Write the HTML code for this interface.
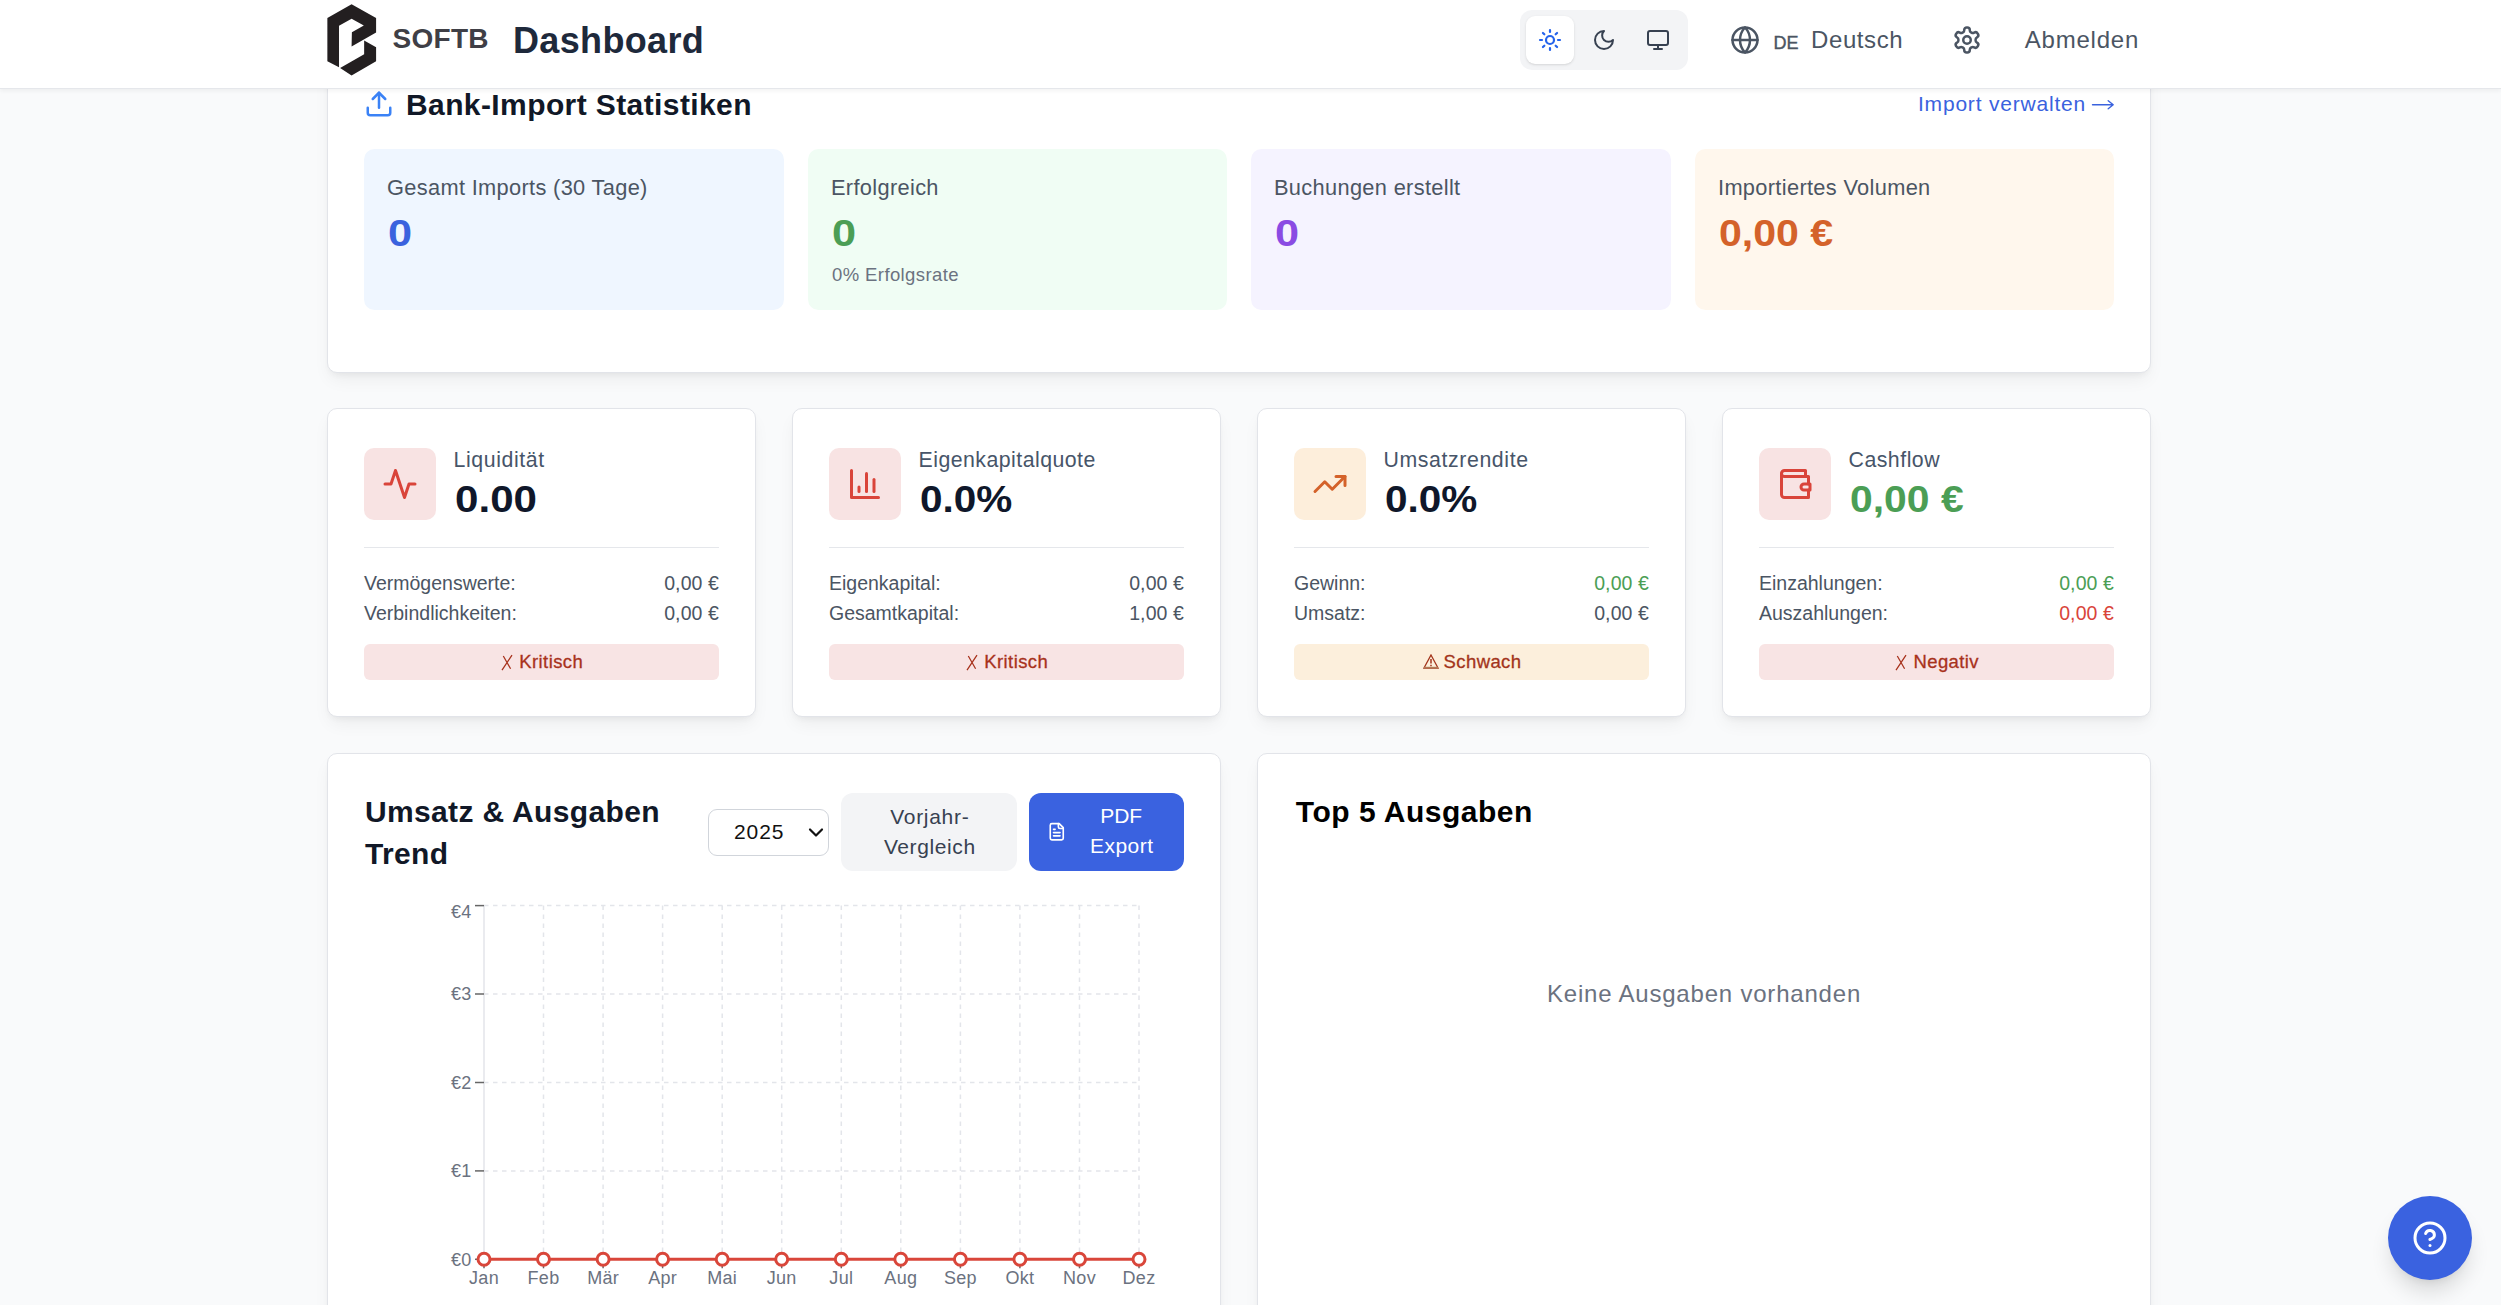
<!DOCTYPE html>
<html lang="de">
<head>
<meta charset="utf-8">
<title>Dashboard</title>
<style>
*{box-sizing:border-box;margin:0;padding:0}
html,body{width:2501px;height:1305px;overflow:hidden}
body{background:#f9fafb;font-family:"Liberation Sans",sans-serif;position:relative;color:#111827}
.a{position:absolute}
.t{position:absolute;line-height:1;white-space:nowrap}
.card{position:absolute;background:#fff;border:1px solid #e2e4e9;border-radius:10px;box-shadow:0 9px 18px -3px rgba(0,0,0,.06),0 4px 7px -3px rgba(0,0,0,.06)}
.box{position:absolute;border-radius:10.5px}
.ib{position:absolute;width:72px;height:72px;border-radius:10px}
.dv{position:absolute;height:1.5px;background:#e5e7eb}
.badge{position:absolute;height:36px;border-radius:6px}
header{position:absolute;left:0;top:0;width:2501px;height:89px;background:#fff;border-bottom:1.5px solid #e5e7eb;box-shadow:0 1.5px 4px rgba(0,0,0,.05);z-index:10}
</style>
</head>
<body>
<div class="card" style="left:327px;top:20px;width:1824px;height:353px"></div>
<svg class="a" style="left:364.0px;top:89.0px" width="30" height="30" viewBox="0 0 24 24" fill="none" stroke="#3b82f6" stroke-width="2" stroke-linecap="round" stroke-linejoin="round"><path d="M21 15v4a2 2 0 0 1-2 2H5a2 2 0 0 1-2-2v-4"/><path d="M17 8l-5-5-5 5"/><path d="M12 3v12"/></svg>
<div class="t" style="left:406.0px;top:89.61px;font-size:30px;font-weight:700;letter-spacing:0.4px;color:#111827;">Bank-Import Statistiken</div>
<div class="t" style="right:415.0px;top:93.02px;font-size:21px;letter-spacing:0.8px;color:#3a62de">Import verwalten</div>
<svg class="a" style="left:2090px;top:96px" width="26" height="16" viewBox="0 0 26 16" fill="none" stroke="#3a62de" stroke-width="1.4" stroke-linecap="round" stroke-linejoin="round"><path d="M2.5 8.8H23.2M18.2 4.8l5 4-5 4"/></svg>
<div class="box" style="left:364px;top:149px;width:420px;height:161px;background:#eff6ff"></div>
<div class="t" style="left:387.0px;top:176.55px;font-size:21.8px;letter-spacing:0.33px;color:#4b5563;">Gesamt Imports (30 Tage)</div>
<div class="t" style="left:388.0px;top:214.78px;font-size:37px;font-weight:700;color:#3a62de;transform:scaleX(1.17);transform-origin:0 0">0</div>
<div class="box" style="left:808px;top:149px;width:419px;height:161px;background:#f0fdf4"></div>
<div class="t" style="left:831.0px;top:176.55px;font-size:21.8px;letter-spacing:0.33px;color:#4b5563;">Erfolgreich</div>
<div class="t" style="left:832.0px;top:214.78px;font-size:37px;font-weight:700;color:#4b9e55;transform:scaleX(1.17);transform-origin:0 0">0</div>
<div class="t" style="left:832.0px;top:265.64px;font-size:18.5px;letter-spacing:0.4px;color:#6b7280;">0% Erfolgsrate</div>
<div class="box" style="left:1251px;top:149px;width:420px;height:161px;background:#f5f3ff"></div>
<div class="t" style="left:1274.0px;top:176.55px;font-size:21.8px;letter-spacing:0.33px;color:#4b5563;">Buchungen erstellt</div>
<div class="t" style="left:1275.0px;top:214.78px;font-size:37px;font-weight:700;color:#8a4be3;transform:scaleX(1.17);transform-origin:0 0">0</div>
<div class="box" style="left:1695px;top:149px;width:419px;height:161px;background:#fff7ed"></div>
<div class="t" style="left:1718.0px;top:176.55px;font-size:21.8px;letter-spacing:0.33px;color:#4b5563;">Importiertes Volumen</div>
<div class="t" style="left:1719.0px;top:214.78px;font-size:37px;font-weight:700;color:#d4622a;transform:scaleX(1.11);transform-origin:0 0">0,00 &#8364;</div>
<div class="card" style="left:327px;top:408px;width:429px;height:309px"></div>
<div class="ib" style="left:364px;top:448px;background:#f8e3e3"></div>
<svg class="a" style="left:382.0px;top:466.0px" width="36" height="36" viewBox="0 0 24 24" fill="none" stroke="#d9443a" stroke-width="2" stroke-linecap="round" stroke-linejoin="round"><path d="M22 12h-4l-3 9L9 3l-3 9H2"/></svg>
<div class="t" style="left:453.5px;top:449.87px;font-size:21.3px;letter-spacing:0.6px;color:#475569;">Liquidit&#228;t</div>
<div class="t" style="left:454.5px;top:481.93px;font-size:36px;font-weight:700;color:#0f172a;transform:scaleX(1.17);transform-origin:0 0">0.00</div>
<div class="dv" style="left:364px;top:546.5px;width:355px"></div>
<div class="t" style="left:364.0px;top:574.09px;font-size:19.5px;color:#4b5563;">Verm&#246;genswerte:</div>
<div class="t" style="right:1782.0px;top:574.09px;font-size:19.5px;letter-spacing:0.1px;color:#4b5563">0,00 &#8364;</div>
<div class="t" style="left:364.0px;top:604.09px;font-size:19.5px;color:#4b5563;">Verbindlichkeiten:</div>
<div class="t" style="right:1782.0px;top:604.09px;font-size:19.5px;letter-spacing:0.1px;color:#4b5563">0,00 &#8364;</div>
<div class="badge" style="left:364px;top:644px;width:355px;background:#f8e4e4"></div>
<div class="t" style="left:364.5px;width:355px;text-align:center;top:653.04px;font-size:18.5px;letter-spacing:0.4px;color:#a8321c;-webkit-text-stroke:0.3px #a8321c"><svg width="12" height="17" viewBox="0 0 12 17" style="margin-right:6.5px;vertical-align:-2.5px"><path d="M1 16.2 L11 1.2 M2.3 2 L9.6 14.8" stroke="#a8321c" stroke-width="1.25" fill="none"/></svg>Kritisch</div>
<div class="card" style="left:792px;top:408px;width:429px;height:309px"></div>
<div class="ib" style="left:829px;top:448px;background:#f8e3e3"></div>
<svg class="a" style="left:847.0px;top:466.0px" width="36" height="36" viewBox="0 0 24 24" fill="none" stroke="#d9443a" stroke-width="2" stroke-linecap="round" stroke-linejoin="round"><path d="M3 3v18h18"/><path d="M18 17V9"/><path d="M13 17V5"/><path d="M8 17v-3"/></svg>
<div class="t" style="left:918.5px;top:449.87px;font-size:21.3px;letter-spacing:0.47px;color:#475569;">Eigenkapitalquote</div>
<div class="t" style="left:919.5px;top:481.93px;font-size:36px;font-weight:700;color:#0f172a;transform:scaleX(1.125);transform-origin:0 0">0.0%</div>
<div class="dv" style="left:829px;top:546.5px;width:355px"></div>
<div class="t" style="left:829.0px;top:574.09px;font-size:19.5px;color:#4b5563;">Eigenkapital:</div>
<div class="t" style="right:1317.0px;top:574.09px;font-size:19.5px;letter-spacing:0.1px;color:#4b5563">0,00 &#8364;</div>
<div class="t" style="left:829.0px;top:604.09px;font-size:19.5px;color:#4b5563;">Gesamtkapital:</div>
<div class="t" style="right:1317.0px;top:604.09px;font-size:19.5px;letter-spacing:0.1px;color:#4b5563">1,00 &#8364;</div>
<div class="badge" style="left:829px;top:644px;width:355px;background:#f8e4e4"></div>
<div class="t" style="left:829.5px;width:355px;text-align:center;top:653.04px;font-size:18.5px;letter-spacing:0.4px;color:#a8321c;-webkit-text-stroke:0.3px #a8321c"><svg width="12" height="17" viewBox="0 0 12 17" style="margin-right:6.5px;vertical-align:-2.5px"><path d="M1 16.2 L11 1.2 M2.3 2 L9.6 14.8" stroke="#a8321c" stroke-width="1.25" fill="none"/></svg>Kritisch</div>
<div class="card" style="left:1257px;top:408px;width:429px;height:309px"></div>
<div class="ib" style="left:1294px;top:448px;background:#fdeedb"></div>
<svg class="a" style="left:1312.0px;top:466.0px" width="36" height="36" viewBox="0 0 24 24" fill="none" stroke="#d4622a" stroke-width="2" stroke-linecap="round" stroke-linejoin="round"><path d="M22 7l-8.5 8.5-5-5L2 17"/><path d="M16 7h6v6"/></svg>
<div class="t" style="left:1383.5px;top:449.87px;font-size:21.3px;letter-spacing:0.6px;color:#475569;">Umsatzrendite</div>
<div class="t" style="left:1384.5px;top:481.93px;font-size:36px;font-weight:700;color:#0f172a;transform:scaleX(1.125);transform-origin:0 0">0.0%</div>
<div class="dv" style="left:1294px;top:546.5px;width:355px"></div>
<div class="t" style="left:1294.0px;top:574.09px;font-size:19.5px;color:#4b5563;">Gewinn:</div>
<div class="t" style="right:852.0px;top:574.09px;font-size:19.5px;letter-spacing:0.1px;color:#4b9e55">0,00 &#8364;</div>
<div class="t" style="left:1294.0px;top:604.09px;font-size:19.5px;color:#4b5563;">Umsatz:</div>
<div class="t" style="right:852.0px;top:604.09px;font-size:19.5px;letter-spacing:0.1px;color:#4b5563">0,00 &#8364;</div>
<div class="badge" style="left:1294px;top:644px;width:355px;background:#fcefdc"></div>
<div class="t" style="left:1294.5px;width:355px;text-align:center;top:653.04px;font-size:18.5px;letter-spacing:0.4px;color:#a3341b;-webkit-text-stroke:0.3px #a3341b"><svg width="16" height="15" viewBox="0 0 16 15" style="margin-right:5px;vertical-align:-1px"><path d="M8 1 L15 14 H1 Z" stroke="#a3341b" stroke-width="1.3" fill="none" stroke-linejoin="miter"/><path d="M8 5v4.5M8 10.8v1.4" stroke="#a3341b" stroke-width="1.5"/><path d="M1 13.6 H15" stroke="#b07a55" stroke-width="1.6"/></svg>Schwach</div>
<div class="card" style="left:1722px;top:408px;width:429px;height:309px"></div>
<div class="ib" style="left:1759px;top:448px;background:#f8e3e3"></div>
<svg class="a" style="left:1777.0px;top:466.0px" width="36" height="36" viewBox="0 0 24 24" fill="none" stroke="#d9443a" stroke-width="2" stroke-linecap="round" stroke-linejoin="round"><path d="M21 12V7H5a2 2 0 0 1 0-4h14v4"/><path d="M3 5v14a2 2 0 0 0 2 2h16v-5"/><path d="M18 12a2 2 0 0 0 0 4h4v-4Z"/></svg>
<div class="t" style="left:1848.5px;top:449.87px;font-size:21.3px;letter-spacing:0.5px;color:#475569;">Cashflow</div>
<div class="t" style="left:1849.5px;top:481.93px;font-size:36px;font-weight:700;color:#4b9e55;transform:scaleX(1.135);transform-origin:0 0">0,00 &#8364;</div>
<div class="dv" style="left:1759px;top:546.5px;width:355px"></div>
<div class="t" style="left:1759.0px;top:574.09px;font-size:19.5px;color:#4b5563;">Einzahlungen:</div>
<div class="t" style="right:387.0px;top:574.09px;font-size:19.5px;letter-spacing:0.1px;color:#4b9e55">0,00 &#8364;</div>
<div class="t" style="left:1759.0px;top:604.09px;font-size:19.5px;color:#4b5563;">Auszahlungen:</div>
<div class="t" style="right:387.0px;top:604.09px;font-size:19.5px;letter-spacing:0.1px;color:#d9443a">0,00 &#8364;</div>
<div class="badge" style="left:1759px;top:644px;width:355px;background:#f8e4e4"></div>
<div class="t" style="left:1759.5px;width:355px;text-align:center;top:653.04px;font-size:18.5px;letter-spacing:0.4px;color:#a8321c;-webkit-text-stroke:0.3px #a8321c"><svg width="12" height="17" viewBox="0 0 12 17" style="margin-right:6.5px;vertical-align:-2.5px"><path d="M1 16.2 L11 1.2 M2.3 2 L9.6 14.8" stroke="#a8321c" stroke-width="1.25" fill="none"/></svg>Negativ</div>
<div class="card" style="left:327px;top:753px;width:894px;height:700px"></div>
<div class="t" style="left:365.0px;top:796.90px;font-size:30px;font-weight:700;letter-spacing:0.35px;color:#111827;">Umsatz &amp; Ausgaben</div>
<div class="t" style="left:365.0px;top:838.90px;font-size:30px;font-weight:700;letter-spacing:0.35px;color:#111827;">Trend</div>
<div class="a" style="left:708px;top:809px;width:121px;height:47px;border:1.5px solid #d1d5db;border-radius:9px;background:#fff"></div>
<div class="t" style="left:734.0px;top:820.62px;font-size:21px;letter-spacing:0.9px;color:#111;">2025</div>
<svg class="a" style="left:806px;top:824px" width="20" height="17" viewBox="0 0 20 17" fill="none" stroke="#111" stroke-width="2.2" stroke-linecap="round" stroke-linejoin="round"><path d="M4 5.5l6 6 6-6"/></svg>
<div class="a" style="left:841px;top:793px;width:176px;height:77.5px;border-radius:12px;background:#f3f4f6"></div>
<div class="t" style="left:841.8px;width:176px;text-align:center;top:805.82px;font-size:21px;letter-spacing:0.7px;color:#374151">Vorjahr-</div>
<div class="t" style="left:841.8px;width:176px;text-align:center;top:835.82px;font-size:21px;letter-spacing:0.6px;color:#374151">Vergleich</div>
<div class="a" style="left:1029px;top:793px;width:155px;height:77.5px;border-radius:12px;background:#3a62e0"></div>
<svg class="a" style="left:1046.6px;top:821.9px" width="19.5" height="19.5" viewBox="0 0 24 24" fill="none" stroke="#fff" stroke-width="2" stroke-linecap="round" stroke-linejoin="round"><path d="M15 2H6a2 2 0 0 0-2 2v16a2 2 0 0 0 2 2h12a2 2 0 0 0 2-2V7Z"/><path d="M14 2v4a2 2 0 0 0 2 2h4"/><path d="M10 9H8"/><path d="M16 13H8"/><path d="M16 17H8"/></svg>
<div class="t" style="left:1061.2px;width:120px;text-align:center;top:805.02px;font-size:21px;color:#fff">PDF</div>
<div class="t" style="left:1061.8px;width:120px;text-align:center;top:835.02px;font-size:21px;letter-spacing:0.5px;color:#fff">Export</div>
<svg class="a" style="left:0;top:0" width="1230" height="1305" viewBox="0 0 1230 1305">
<line x1="543.5" y1="905.6" x2="543.5" y2="1259.3" stroke="#e3e5ea" stroke-width="1.5" stroke-dasharray="4.5 4.5"/>
<line x1="603.1" y1="905.6" x2="603.1" y2="1259.3" stroke="#e3e5ea" stroke-width="1.5" stroke-dasharray="4.5 4.5"/>
<line x1="662.6" y1="905.6" x2="662.6" y2="1259.3" stroke="#e3e5ea" stroke-width="1.5" stroke-dasharray="4.5 4.5"/>
<line x1="722.2" y1="905.6" x2="722.2" y2="1259.3" stroke="#e3e5ea" stroke-width="1.5" stroke-dasharray="4.5 4.5"/>
<line x1="781.7" y1="905.6" x2="781.7" y2="1259.3" stroke="#e3e5ea" stroke-width="1.5" stroke-dasharray="4.5 4.5"/>
<line x1="841.3" y1="905.6" x2="841.3" y2="1259.3" stroke="#e3e5ea" stroke-width="1.5" stroke-dasharray="4.5 4.5"/>
<line x1="900.8" y1="905.6" x2="900.8" y2="1259.3" stroke="#e3e5ea" stroke-width="1.5" stroke-dasharray="4.5 4.5"/>
<line x1="960.4" y1="905.6" x2="960.4" y2="1259.3" stroke="#e3e5ea" stroke-width="1.5" stroke-dasharray="4.5 4.5"/>
<line x1="1019.9" y1="905.6" x2="1019.9" y2="1259.3" stroke="#e3e5ea" stroke-width="1.5" stroke-dasharray="4.5 4.5"/>
<line x1="1079.5" y1="905.6" x2="1079.5" y2="1259.3" stroke="#e3e5ea" stroke-width="1.5" stroke-dasharray="4.5 4.5"/>
<line x1="1139.0" y1="905.6" x2="1139.0" y2="1259.3" stroke="#e3e5ea" stroke-width="1.5" stroke-dasharray="4.5 4.5"/>
<line x1="484.0" y1="905.6" x2="1139.0" y2="905.6" stroke="#e3e5ea" stroke-width="1.5" stroke-dasharray="4.5 4.5"/>
<line x1="484.0" y1="994.0" x2="1139.0" y2="994.0" stroke="#e3e5ea" stroke-width="1.5" stroke-dasharray="4.5 4.5"/>
<line x1="484.0" y1="1082.5" x2="1139.0" y2="1082.5" stroke="#e3e5ea" stroke-width="1.5" stroke-dasharray="4.5 4.5"/>
<line x1="484.0" y1="1170.9" x2="1139.0" y2="1170.9" stroke="#e3e5ea" stroke-width="1.5" stroke-dasharray="4.5 4.5"/>
<line x1="484.0" y1="905.6" x2="484.0" y2="1259.3" stroke="#e3e5ea" stroke-width="1.5"/>
<line x1="475.0" y1="905.6" x2="484.0" y2="905.6" stroke="#666" stroke-width="1.5"/>
<text x="471.5" y="918.0" text-anchor="end" font-size="18" fill="#6b7280" font-family="Liberation Sans, sans-serif" letter-spacing="0.3">&#8364;4</text>
<line x1="475.0" y1="994.0" x2="484.0" y2="994.0" stroke="#666" stroke-width="1.5"/>
<text x="471.5" y="1000.3" text-anchor="end" font-size="18" fill="#6b7280" font-family="Liberation Sans, sans-serif" letter-spacing="0.3">&#8364;3</text>
<line x1="475.0" y1="1082.5" x2="484.0" y2="1082.5" stroke="#666" stroke-width="1.5"/>
<text x="471.5" y="1088.8" text-anchor="end" font-size="18" fill="#6b7280" font-family="Liberation Sans, sans-serif" letter-spacing="0.3">&#8364;2</text>
<line x1="475.0" y1="1170.9" x2="484.0" y2="1170.9" stroke="#666" stroke-width="1.5"/>
<text x="471.5" y="1177.2" text-anchor="end" font-size="18" fill="#6b7280" font-family="Liberation Sans, sans-serif" letter-spacing="0.3">&#8364;1</text>
<line x1="475.0" y1="1259.3" x2="484.0" y2="1259.3" stroke="#666" stroke-width="1.5"/>
<text x="471.5" y="1265.6" text-anchor="end" font-size="18" fill="#6b7280" font-family="Liberation Sans, sans-serif" letter-spacing="0.3">&#8364;0</text>
<line x1="484.0" y1="1259.3" x2="484.0" y2="1268.3" stroke="#666" stroke-width="1.5"/>
<text x="484.0" y="1283.6" text-anchor="middle" font-size="18" fill="#6b7280" font-family="Liberation Sans, sans-serif" letter-spacing="0.3">Jan</text>
<line x1="543.5" y1="1259.3" x2="543.5" y2="1268.3" stroke="#666" stroke-width="1.5"/>
<text x="543.5" y="1283.6" text-anchor="middle" font-size="18" fill="#6b7280" font-family="Liberation Sans, sans-serif" letter-spacing="0.3">Feb</text>
<line x1="603.1" y1="1259.3" x2="603.1" y2="1268.3" stroke="#666" stroke-width="1.5"/>
<text x="603.1" y="1283.6" text-anchor="middle" font-size="18" fill="#6b7280" font-family="Liberation Sans, sans-serif" letter-spacing="0.3">M&#228;r</text>
<line x1="662.6" y1="1259.3" x2="662.6" y2="1268.3" stroke="#666" stroke-width="1.5"/>
<text x="662.6" y="1283.6" text-anchor="middle" font-size="18" fill="#6b7280" font-family="Liberation Sans, sans-serif" letter-spacing="0.3">Apr</text>
<line x1="722.2" y1="1259.3" x2="722.2" y2="1268.3" stroke="#666" stroke-width="1.5"/>
<text x="722.2" y="1283.6" text-anchor="middle" font-size="18" fill="#6b7280" font-family="Liberation Sans, sans-serif" letter-spacing="0.3">Mai</text>
<line x1="781.7" y1="1259.3" x2="781.7" y2="1268.3" stroke="#666" stroke-width="1.5"/>
<text x="781.7" y="1283.6" text-anchor="middle" font-size="18" fill="#6b7280" font-family="Liberation Sans, sans-serif" letter-spacing="0.3">Jun</text>
<line x1="841.3" y1="1259.3" x2="841.3" y2="1268.3" stroke="#666" stroke-width="1.5"/>
<text x="841.3" y="1283.6" text-anchor="middle" font-size="18" fill="#6b7280" font-family="Liberation Sans, sans-serif" letter-spacing="0.3">Jul</text>
<line x1="900.8" y1="1259.3" x2="900.8" y2="1268.3" stroke="#666" stroke-width="1.5"/>
<text x="900.8" y="1283.6" text-anchor="middle" font-size="18" fill="#6b7280" font-family="Liberation Sans, sans-serif" letter-spacing="0.3">Aug</text>
<line x1="960.4" y1="1259.3" x2="960.4" y2="1268.3" stroke="#666" stroke-width="1.5"/>
<text x="960.4" y="1283.6" text-anchor="middle" font-size="18" fill="#6b7280" font-family="Liberation Sans, sans-serif" letter-spacing="0.3">Sep</text>
<line x1="1019.9" y1="1259.3" x2="1019.9" y2="1268.3" stroke="#666" stroke-width="1.5"/>
<text x="1019.9" y="1283.6" text-anchor="middle" font-size="18" fill="#6b7280" font-family="Liberation Sans, sans-serif" letter-spacing="0.3">Okt</text>
<line x1="1079.5" y1="1259.3" x2="1079.5" y2="1268.3" stroke="#666" stroke-width="1.5"/>
<text x="1079.5" y="1283.6" text-anchor="middle" font-size="18" fill="#6b7280" font-family="Liberation Sans, sans-serif" letter-spacing="0.3">Nov</text>
<line x1="1139.0" y1="1259.3" x2="1139.0" y2="1268.3" stroke="#666" stroke-width="1.5"/>
<text x="1139.0" y="1283.6" text-anchor="middle" font-size="18" fill="#6b7280" font-family="Liberation Sans, sans-serif" letter-spacing="0.3">Dez</text>
<line x1="484.0" y1="1259.3" x2="1139.0" y2="1259.3" stroke="#d9463a" stroke-width="3"/>
<circle cx="484.0" cy="1259.3" r="6" fill="#fff" stroke="#d9463a" stroke-width="3"/>
<circle cx="543.5" cy="1259.3" r="6" fill="#fff" stroke="#d9463a" stroke-width="3"/>
<circle cx="603.1" cy="1259.3" r="6" fill="#fff" stroke="#d9463a" stroke-width="3"/>
<circle cx="662.6" cy="1259.3" r="6" fill="#fff" stroke="#d9463a" stroke-width="3"/>
<circle cx="722.2" cy="1259.3" r="6" fill="#fff" stroke="#d9463a" stroke-width="3"/>
<circle cx="781.7" cy="1259.3" r="6" fill="#fff" stroke="#d9463a" stroke-width="3"/>
<circle cx="841.3" cy="1259.3" r="6" fill="#fff" stroke="#d9463a" stroke-width="3"/>
<circle cx="900.8" cy="1259.3" r="6" fill="#fff" stroke="#d9463a" stroke-width="3"/>
<circle cx="960.4" cy="1259.3" r="6" fill="#fff" stroke="#d9463a" stroke-width="3"/>
<circle cx="1019.9" cy="1259.3" r="6" fill="#fff" stroke="#d9463a" stroke-width="3"/>
<circle cx="1079.5" cy="1259.3" r="6" fill="#fff" stroke="#d9463a" stroke-width="3"/>
<circle cx="1139.0" cy="1259.3" r="6" fill="#fff" stroke="#d9463a" stroke-width="3"/>
</svg>
<div class="card" style="left:1257px;top:753px;width:894px;height:700px"></div>
<div class="t" style="left:1295.8px;top:796.81px;font-size:30px;font-weight:700;letter-spacing:0.5px;color:#000;">Top 5 Ausgaben</div>
<div class="t" style="left:1404.0px;width:600px;text-align:center;top:981.88px;font-size:24px;letter-spacing:0.8px;color:#6b7280">Keine Ausgaben vorhanden</div>
<div class="a" style="left:2388px;top:1196px;width:84px;height:84px;border-radius:50%;background:#3a62e0;box-shadow:0 15px 22px -4px rgba(0,0,0,.14),0 6px 9px -6px rgba(0,0,0,.1)"></div>
<svg class="a" style="left:2412.0px;top:1220.0px" width="36" height="36" viewBox="0 0 24 24" fill="none" stroke="#fff" stroke-width="2" stroke-linecap="round" stroke-linejoin="round"><circle cx="12" cy="12" r="10"/><path d="M9.09 9a3 3 0 0 1 5.83 1c0 2-3 3-3 3"/><path d="M12 17h.01"/></svg>
<header>
<svg class="a" style="left:320px;top:0;width:65px;height:80px" viewBox="0 0 1060 1305">
<path d="M120,295 L515,70 L915,295 L915,530 L515,760 L520,525 L715,415 L515,305 L310,420 L310,1098 L120,1000 Z" fill="#231f20"/>
<path d="M720,660 L915,770 L915,1000 L515,1230 L328,1108 L720,885 Z" fill="#231f20"/>
</svg>
<div class="t" style="left:392.5px;top:24.70px;font-size:28px;font-weight:700;letter-spacing:0.3px;color:#3f3f46;">SOFTB</div>
<div class="t" style="left:513.0px;top:22.53px;font-size:36px;font-weight:700;letter-spacing:0.35px;color:#1e293b;">Dashboard</div>
<div class="a" style="left:1520px;top:10px;width:168px;height:60px;border-radius:12px;background:#f3f4f6"></div>
<div class="a" style="left:1526px;top:16px;width:48px;height:48px;border-radius:9px;background:#fff;box-shadow:0 1px 3px rgba(0,0,0,.1),0 1px 2px -1px rgba(0,0,0,.1)"></div>
<svg class="a" style="left:1538.0px;top:28.0px" width="24" height="24" viewBox="0 0 24 24" fill="none" stroke="#2563eb" stroke-width="2.2" stroke-linecap="round" stroke-linejoin="round"><circle cx="12" cy="12" r="4"/><path d="M12 2v2M12 20v2M4.93 4.93l1.41 1.41M17.66 17.66l1.41 1.41M2 12h2M20 12h2M6.34 17.66l-1.41 1.41M19.07 4.93l-1.41 1.41"/></svg>
<svg class="a" style="left:1592.0px;top:28.0px" width="24" height="24" viewBox="0 0 24 24" fill="none" stroke="#374151" stroke-width="2" stroke-linecap="round" stroke-linejoin="round"><path d="M12 3a6 6 0 0 0 9 9 9 9 0 1 1-9-9Z"/></svg>
<svg class="a" style="left:1646.0px;top:28.0px" width="24" height="24" viewBox="0 0 24 24" fill="none" stroke="#374151" stroke-width="2" stroke-linecap="round" stroke-linejoin="round"><rect width="20" height="14" x="2" y="3" rx="2"/><path d="M8 21h8M12 17v4"/></svg>
<svg class="a" style="left:1730.0px;top:25.0px" width="30" height="30" viewBox="0 0 24 24" fill="none" stroke="#4b5563" stroke-width="2" stroke-linecap="round" stroke-linejoin="round"><circle cx="12" cy="12" r="10"/><path d="M12 2a14.5 14.5 0 0 0 0 20 14.5 14.5 0 0 0 0-20M2 12h20"/></svg>
<div class="t" style="left:1773.5px;top:34.16px;font-size:18px;color:#4b5563;-webkit-text-stroke:0.4px #4b5563">DE</div>
<div class="t" style="left:1811.0px;top:27.58px;font-size:24px;letter-spacing:0.6px;color:#4b5563;">Deutsch</div>
<svg class="a" style="left:1952.0px;top:25.0px" width="30" height="30" viewBox="0 0 24 24" fill="none" stroke="#4b5563" stroke-width="2" stroke-linecap="round" stroke-linejoin="round"><path d="M12.22 2h-.44a2 2 0 0 0-2 2v.18a2 2 0 0 1-1 1.73l-.43.25a2 2 0 0 1-2 0l-.15-.08a2 2 0 0 0-2.73.73l-.22.38a2 2 0 0 0 .73 2.73l.15.1a2 2 0 0 1 1 1.72v.51a2 2 0 0 1-1 1.74l-.15.09a2 2 0 0 0-.73 2.73l.22.38a2 2 0 0 0 2.73.73l.15-.08a2 2 0 0 1 2 0l.43.25a2 2 0 0 1 1 1.73V20a2 2 0 0 0 2 2h.44a2 2 0 0 0 2-2v-.18a2 2 0 0 1 1-1.73l.43-.25a2 2 0 0 1 2 0l.15.08a2 2 0 0 0 2.73-.73l.22-.39a2 2 0 0 0-.73-2.73l-.15-.08a2 2 0 0 1-1-1.74v-.5a2 2 0 0 1 1-1.74l.15-.09a2 2 0 0 0 .73-2.73l-.22-.38a2 2 0 0 0-2.73-.73l-.15.08a2 2 0 0 1-2 0l-.43-.25a2 2 0 0 1-1-1.73V4a2 2 0 0 0-2-2z"/><circle cx="12" cy="12" r="3"/></svg>
<div class="t" style="left:2024.7px;top:27.58px;font-size:24px;letter-spacing:0.8px;color:#4b5563;">Abmelden</div>
</header>
</body>
</html>
